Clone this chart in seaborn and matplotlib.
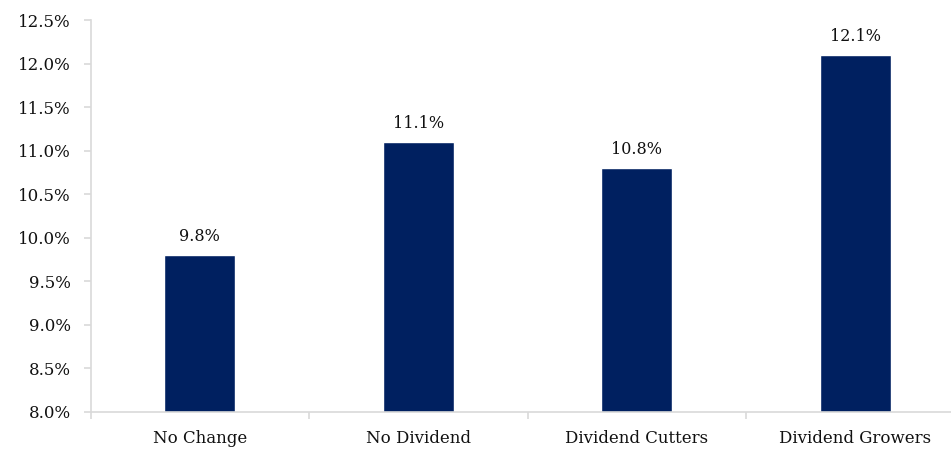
import matplotlib
matplotlib.use("Agg")
import matplotlib.pyplot as plt
import seaborn as sns
import pandas as pd
from matplotlib.ticker import FixedLocator, FuncFormatter

categories = ["No Change", "No Dividend", "Dividend Cutters", "Dividend Growers"]
returns_pct = [9.8, 11.1, 10.8, 12.1]
y_ticks = [8.0, 8.5, 9.0, 9.5, 10.0, 10.5, 11.0, 11.5, 12.0, 12.5]

sns.set_theme(style="white")
plt.rcParams["font.family"] = ["DejaVu Serif"]

df = pd.DataFrame({"category": categories, "value": returns_pct})

fig = plt.figure(figsize=(9.51, 4.49), dpi=100)
ax = fig.add_axes([90.5 / 951, 37 / 449, 874 / 951, (412 - 20) / 449])

navy = "#002060"
grey = "#d9d9d9"
sns.barplot(data=df, x="category", y="value", color=navy, width=0.325,
            saturation=1, ax=ax)

ax.set_ylim(8.0, 12.5)
ax.set_xlim(-0.5, 3.5)
ax.set_yticks(y_ticks)
ax.yaxis.set_major_formatter(FuncFormatter(lambda v, _: f"{v:.1f}%"))

# category boundaries carry the tick marks, labels sit between them
ax.xaxis.set_major_locator(FixedLocator([-0.5, 0.5, 1.5, 2.5, 3.5]))
ax.xaxis.set_major_formatter(FuncFormatter(lambda v, _: ""))
ax.set_xticks(range(len(categories)), labels=categories, minor=True)
ax.tick_params(axis="x", which="major", length=5, width=1.2, color=grey, direction="out", bottom=True)
ax.tick_params(axis="x", which="minor", length=0, pad=13, labelsize=12, labelcolor="#111111")
ax.tick_params(axis="y", length=5, width=1.2, color=grey, direction="out", left=True,
               pad=9, labelsize=12, labelcolor="#111111")

ax.set_xlabel("")
ax.set_ylabel("")
for side in ["top", "right"]:
    ax.spines[side].set_visible(False)
for side in ["left", "bottom"]:
    ax.spines[side].set_color(grey)
    ax.spines[side].set_linewidth(1.2)

for i, v in enumerate(returns_pct):
    ax.annotate(f"{v:.1f}%", (i, v), xytext=(0, 7), textcoords="offset points",
                ha="center", va="bottom", fontsize=11.5, color="#111111")

fig.savefig("out.png", dpi=100)
